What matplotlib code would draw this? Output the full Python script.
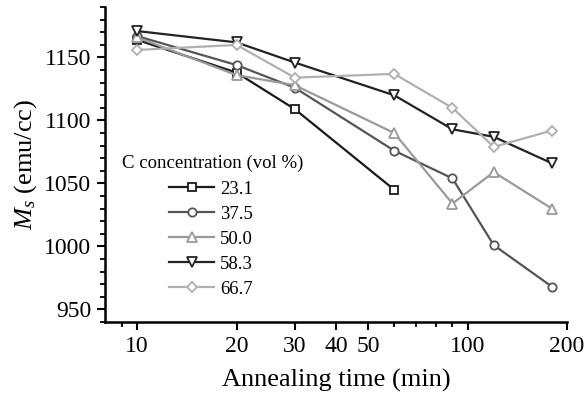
import matplotlib
matplotlib.use("Agg")
import matplotlib.pyplot as plt
from matplotlib.ticker import FixedLocator, NullFormatter, MultipleLocator

plt.rcParams['font.family'] = ['Liberation Serif', 'DejaVu Serif']
plt.rcParams['mathtext.fontset'] = 'custom'
plt.rcParams['mathtext.it'] = 'Liberation Serif:italic'
plt.rcParams['mathtext.rm'] = 'Liberation Serif'

# annealing time (min)
time_a = [10, 20, 30, 60]
time_b = [10, 20, 30, 60, 90, 120, 180]

ms_231 = [1164, 1138, 1109, 1045]
ms_375 = [1167, 1144, 1126, 1076, 1054, 1001, 968]
ms_500 = [1166, 1136, 1128, 1090, 1034, 1059, 1030]
ms_583 = [1171, 1162, 1146, 1120, 1093, 1087, 1066]
ms_667 = [1156, 1160, 1134, 1137, 1110, 1079, 1092]

labels = ['23.1', '37.5', '50.0', '58.3', '66.7']
colors = ['#1a1a1a', '#555555', '#9a9a9a', '#222222', '#b0b0b0']
markers = ['s', 'o', '^', 'v', 'D']
msizes = [6, 6, 7, 7, 5.5]

fig = plt.figure(figsize=(5.87, 3.96), dpi=100)
ax = fig.add_axes([0.179, 0.187, 0.787, 0.795])

series = [(time_a, ms_231), (time_b, ms_375), (time_b, ms_500), (time_b, ms_583), (time_b, ms_667)]
for i, (x, y) in enumerate(series):
    ax.plot(x, y, color=colors[i], marker=markers[i], markersize=msizes[i],
            markerfacecolor='white', markeredgecolor=colors[i], markeredgewidth=1.3,
            linewidth=1.6, label=labels[i])

ax.set_xscale('log')
ax.set_xlim(8, 200)
ax.set_ylim(940, 1190)
ax.xaxis.set_major_locator(FixedLocator([10, 20, 30, 40, 50, 100, 200]))
ax.xaxis.set_minor_locator(FixedLocator([9, 60, 70, 80, 90]))
ax.xaxis.set_minor_formatter(NullFormatter())
ax.set_xticklabels(['10', '20', '30', '40', '50', '100', '200'])
ax.yaxis.set_major_locator(FixedLocator([950, 1000, 1050, 1100, 1150]))
ax.yaxis.set_minor_locator(MultipleLocator(10))

for s in ['top', 'right']:
    ax.spines[s].set_visible(False)
for s in ['left', 'bottom']:
    ax.spines[s].set_linewidth(1.8)
ax.tick_params(which='major', direction='out', length=6, width=1.5, labelsize=17, pad=4)
ax.tick_params(which='minor', direction='out', length=3.5, width=1.3)

ax.set_xlabel('Annealing time (min)', fontsize=19, labelpad=9)
ax.set_ylabel(r'$M_s$ (emu/cc)', fontsize=19, labelpad=4)

ax.text(0.037, 0.505, 'C concentration (vol %)', transform=ax.transAxes, fontsize=13.5, va='center', ha='left')
ax.legend(loc='upper left', bbox_to_anchor=(0.111, 0.49), frameon=False, fontsize=13.5,
          handlelength=2.4, handletextpad=0.3, labelspacing=0.42, borderpad=0.2)

fig.savefig('out.png', dpi=100)
